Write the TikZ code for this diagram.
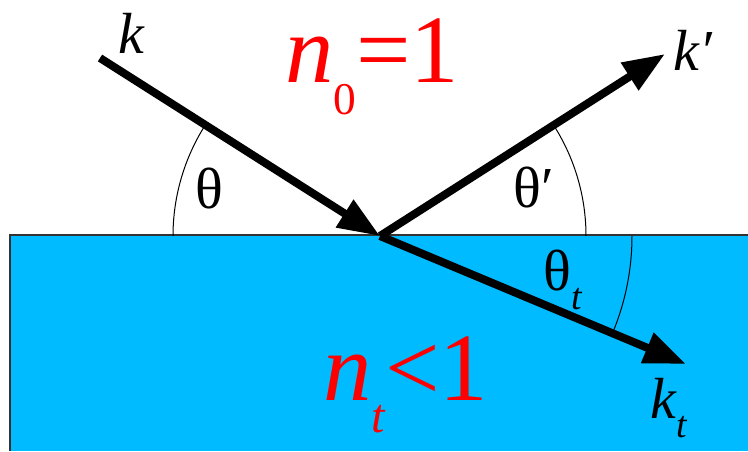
\documentclass[tikz,border=0pt]{standalone}
\usepackage{fontspec}
\setmainfont{Liberation Serif}
\usetikzlibrary{arrows.meta,calc}
\definecolor{medium}{RGB}{0,187,255}
\newcommand{\lowsub}[2][0.5]{\raisebox{-0.34em}{\scalebox{#1}{#2}}}

\begin{document}
\begin{tikzpicture}[x=0.02cm,y=0.02cm,
  lbl/.style={font=\fontsize{33}{40}\selectfont,inner sep=0pt,anchor=base west},
  idx/.style={font=\fontsize{55}{66}\selectfont,text=red,inner sep=0pt,anchor=base west},
  ray/.style={line width=0.16cm,-{Triangle[length=0.84cm,width=0.62cm]}},
  angarc/.style={line width=0.02cm},
]
\useasboundingbox (0,0) rectangle (748,451);
% medium below the surface
\fill[medium] (10,0) rectangle (748,216);
\draw[line width=0.03cm,black!80] (10,0) |- (748,216);
% rays
\coordinate (O) at (380,215);
\coordinate (kin) at (100,393);
\coordinate (kref) at (665,397);
\coordinate (ktr) at (686,87);
\draw[angarc] ($(O)+(180:207)$) arc[start angle=180,end angle=147.55,radius=207];
\draw[angarc] ($(O)+(0:206)$) arc[start angle=0,end angle=32.6,radius=206];
\draw[angarc] ($(O)+(0:252)$) arc[start angle=0,end angle=-22.7,radius=252];
\draw[ray] (kin) -- (O);
\draw[ray] (O) -- (kref);
\draw[ray] (O) -- (ktr);
% labels
\node[lbl] (lk) at (118,398) {\itshape k};
\node[lbl] (lkref) at (673,381) {\itshape k\/\char"2032};
\node[lbl] (lktr) at (650,33) {\itshape k\lowsub[0.65]{t}};
\node[lbl] (lth) at (195,243) {θ};
\node[lbl] (lthref) at (513,244) {θ\char"2032};
\node[lbl] (lthtr) at (543,161) {θ\lowsub[0.65]{\itshape t}};
\node[idx] (lnzero) at (285,369) {\textit{n}\lowsub[0.47]{0}=1};
\node[idx] (lntr) at (323,51) {\textit{n}\lowsub[0.5]{\itshape t}<1};
\end{tikzpicture}
\end{document}
